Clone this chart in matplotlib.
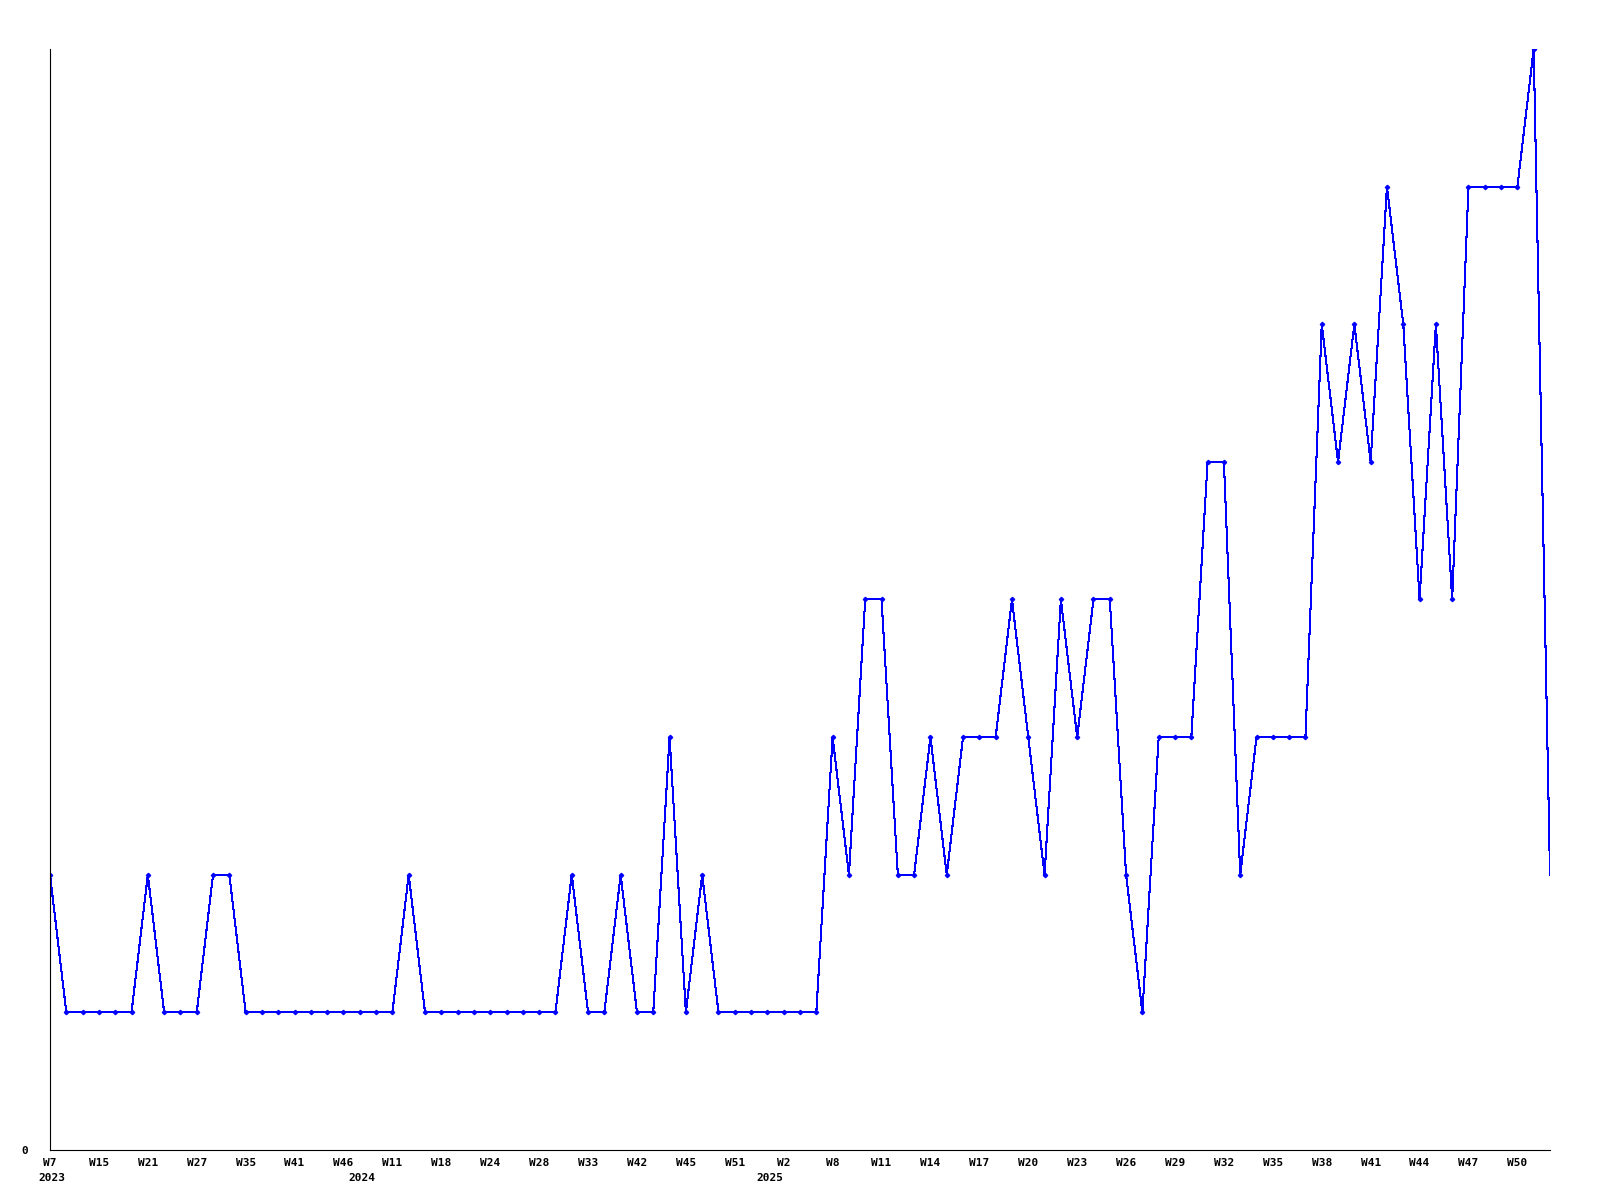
import numpy as np
import matplotlib
matplotlib.use("Agg")
import matplotlib.pyplot as plt
import matplotlib.transforms as mtransforms

# valores semanales
valores = [2, 1, 1, 1, 1, 1, 2, 1, 1, 1,
           2, 2, 1, 1, 1, 1, 1, 1, 1, 1,
           1, 1, 2, 1, 1, 1, 1, 1, 1, 1,
           1, 1, 2, 1, 1, 2, 1, 1, 3, 1,
           2, 1, 1, 1, 1, 1, 1, 1, 3, 2,
           4, 4, 2, 2, 3, 2, 3, 3, 3, 4,
           3, 2, 4, 3, 4, 4, 2, 1, 3, 3,
           3, 5, 5, 2, 3, 3, 3, 3, 6, 5,
           6, 5, 7, 6, 4, 6, 4, 7, 7, 7,
           7, 8, 2]

# etiquetas del eje x (cada 3 puntos)
etiquetas_semana = ["W7", "W15", "W21", "W27", "W35", "W41", "W46", "W11",
                    "W18", "W24", "W28", "W33", "W42", "W45", "W51", "W2",
                    "W8", "W11", "W14", "W17", "W20", "W23", "W26", "W29",
                    "W32", "W35", "W38", "W41", "W44", "W47", "W50"]
anios = ["2023", "2024", "2025"]
pos_anios = [0, 19, 44]

x = np.arange(len(valores))
pos_semana = np.arange(0, len(valores), 3)[:len(etiquetas_semana)]

fig = plt.figure(figsize=(16, 12), dpi=100)
ax = fig.add_axes([0.03125, 0.0417, 0.9375, 0.9175])

ax.plot(x, valores, color="#0000ff", linewidth=0.75, antialiased=False)
ax.plot(x[:-1], valores[:-1], linestyle="none", marker="D", markersize=2.2,
        color="#0000ff")

for s in ["top", "right"]:
    ax.spines[s].set_visible(False)
for s in ["left", "bottom"]:
    ax.spines[s].set_color("black")
    ax.spines[s].set_linewidth(0.8)

fuente = dict(family="DejaVu Sans Mono", fontweight="bold", fontsize=8)

ax.set_yticks([0])
ax.set_yticklabels(["0"], **fuente)
ax.tick_params(axis="y", length=0, pad=16)

ax.set_xticks(pos_semana)
ax.set_xticklabels(etiquetas_semana, **fuente)
ax.tick_params(axis="x", length=0, pad=6)

ax.set_xlim(0, len(valores) - 1)
ax.set_ylim(0, 8)

trans = mtransforms.blended_transform_factory(ax.transData, ax.transAxes)
for a, p in zip(anios, pos_anios):
    ax.text(p - 0.7, -0.021, a, transform=trans, ha="left", va="top", **fuente)

fig.savefig("out.png", dpi=100, facecolor="white")
